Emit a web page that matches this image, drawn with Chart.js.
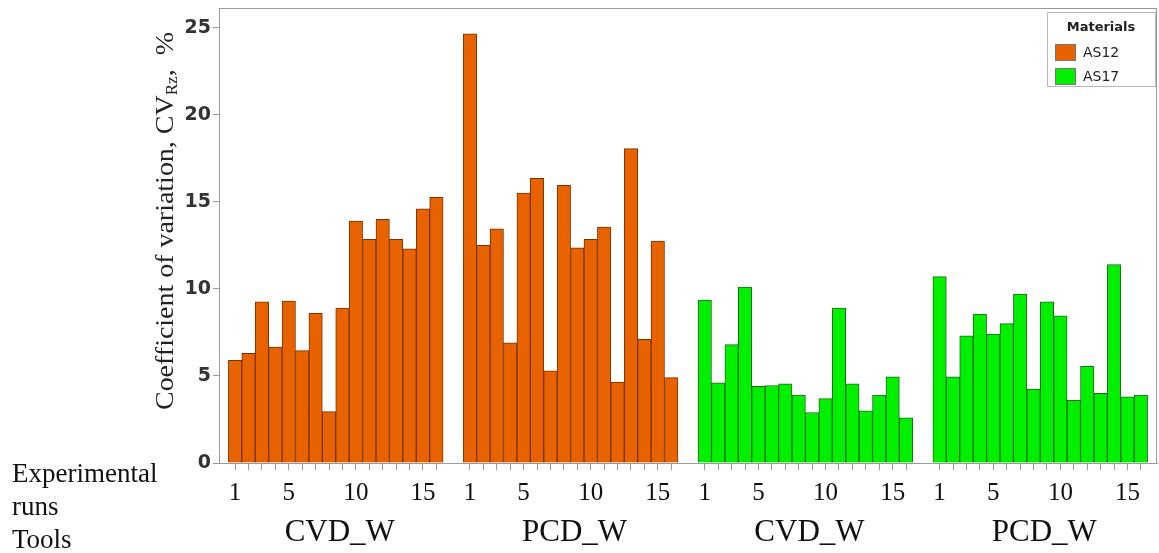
<!DOCTYPE html>
<html>
<head>
<meta charset="utf-8">
<script src="https://cdn.jsdelivr.net/npm/chart.js@4.4.1/dist/chart.umd.min.js"></script>
<style>
  html, body { margin: 0; padding: 0; background: #fff; }
  #wrap { width: 1159px; height: 553px; }
</style>
</head>
<body>
<div id="wrap"><canvas id="cvChart"></canvas></div>
<script>
// coefficient of variation of Rz, % — 16 runs per tool
var runs = [1, 2, 3, 4, 5, 6, 7, 8, 9, 10, 11, 12, 13, 14, 15, 16];
var runLabels = [1, 5, 10, 15];
var tools = ['CVD_W', 'PCD_W', 'CVD_W', 'PCD_W'];
var materials = ['AS12', 'AS17'];
var as12Cvd = [5.9, 6.3, 9.25, 6.65, 9.3, 6.45, 8.6, 2.95, 8.9, 13.9, 12.85, 14.0, 12.85, 12.3, 14.6, 15.25];
var as12Pcd = [24.65, 12.5, 13.45, 6.9, 15.5, 16.35, 5.3, 15.95, 12.35, 12.85, 13.55, 4.65, 18.05, 7.1, 12.75, 4.9];
var as17Cvd = [9.35, 4.6, 6.8, 10.1, 4.4, 4.45, 4.55, 3.9, 2.9, 3.7, 8.9, 4.55, 3.0, 3.9, 4.95, 2.6];
var as17Pcd = [10.7, 4.95, 7.3, 8.55, 7.4, 8.0, 9.7, 4.25, 9.25, 8.45, 3.6, 5.55, 4.0, 11.4, 3.8, 3.9];
var yTicks = [0, 5, 10, 15, 20, 25];

var colors = ['#E86300', '#00F000'];
var borders = ['#7a3300', '#1c6b1c'];
var groupStep = 17.5; // one group of runs plus the gap before the next one

function place(values, group) {
  return values.map(function (v, i) { return { x: group * groupStep + (runs[i] - 1), y: v }; });
}

var tickPos = [], tickText = [];
tools.forEach(function (t, g) {
  runs.forEach(function (r) {
    tickPos.push(g * groupStep + r - 1);
    tickText.push(runLabels.indexOf(r) >= 0 ? String(r) : '');
  });
});

var decor = {
  id: 'decor',
  afterDraw: function (chart) {
    var c = chart.ctx, a = chart.chartArea, xs = chart.scales.x;
    c.save();
    // frame around the plot
    c.strokeStyle = '#9a9a9a';
    c.lineWidth = 1;
    c.strokeRect(a.left + 0.5, a.top + 0.5, a.right - a.left - 1, a.bottom - a.top);

    // y title with subscript
    c.fillStyle = '#222';
    c.translate(166, 221);
    c.rotate(-Math.PI / 2);
    c.textBaseline = 'middle';
    var f1 = '26px "Liberation Serif"', f2 = '16px "Liberation Serif"';
    var p1 = 'Coefficient of variation, CV', p2 = 'Rz', p3 = ',  %';
    c.font = f1; var w1 = c.measureText(p1).width, w3 = c.measureText(p3).width;
    c.font = f2; var w2 = c.measureText(p2).width;
    var k = 378 / (w1 + w2 + w3);
    c.scale(k, 1);
    var x0 = -(w1 + w2 + w3) / 2;
    c.textAlign = 'left';
    c.font = f1; c.fillText(p1, x0, 0);
    c.font = f2; c.fillText(p2, x0 + w1, 7);
    c.font = f1; c.fillText(p3, x0 + w1 + w2, 0);
    c.setTransform(1, 0, 0, 1, 0, 0);

    // row captions on the left
    c.font = '27px "Liberation Serif"';
    c.textAlign = 'left';
    c.textBaseline = 'alphabetic';
    c.fillStyle = '#111';
    c.fillText('Experimental', 12, 482);
    c.fillText('runs', 12, 515);
    c.fillText('Tools', 12, 548);

    // tool names under each group
    c.font = '31px "Liberation Serif"';
    c.textAlign = 'center';
    tools.forEach(function (t, g) {
      c.fillText(t, xs.getPixelForValue(g * groupStep + 7.5) + 4, 541);
    });

    // legend box
    var lx = 1047, ly = 12, lw = 108, lh = 74;
    c.fillStyle = '#fff';
    c.fillRect(lx, ly, lw, lh);
    c.strokeStyle = '#b8b8b8';
    c.strokeRect(lx + 0.5, ly + 0.5, lw, lh);
    c.fillStyle = '#222';
    c.textBaseline = 'middle';
    c.font = 'bold 13px "DejaVu Sans"';
    c.textAlign = 'center';
    c.fillText('Materials', lx + lw / 2, ly + 16);
    c.textAlign = 'left';
    c.font = '14px "DejaVu Sans"';
    chart.data.datasets.forEach(function (ds, i) {
      var sy = ly + 32 + i * 24;
      c.fillStyle = ds.backgroundColor;
      c.fillRect(lx + 8, sy, 20, 16);
      c.strokeStyle = '#777';
      c.strokeRect(lx + 8.5, sy + 0.5, 20, 16);
      c.fillStyle = '#222';
      c.fillText(ds.label, lx + 36, sy + 9);
    });
    c.restore();
  }
};

new Chart(document.getElementById('cvChart'), {
  type: 'bar',
  data: {
    datasets: [
      {
        label: materials[0],
        data: place(as12Cvd, 0).concat(place(as12Pcd, 1)),
        backgroundColor: colors[0],
        borderColor: borders[0],
        borderWidth: 1,
        grouped: false,
        barPercentage: 1,
        categoryPercentage: 1
      },
      {
        label: materials[1],
        data: place(as17Cvd, 2).concat(place(as17Pcd, 3)),
        backgroundColor: colors[1],
        borderColor: borders[1],
        borderWidth: 1,
        grouped: false,
        barPercentage: 1,
        categoryPercentage: 1
      }
    ]
  },
  options: {
    responsive: true,
    maintainAspectRatio: false,
    animation: false,
    layout: { padding: { top: 8, right: 2, left: 0, bottom: 0 } },
    plugins: { legend: { display: false }, tooltip: { enabled: false } },
    scales: {
      x: {
        type: 'linear',
        offset: false,
        min: -1.2,
        max: 68.7,
        afterBuildTicks: function (s) { s.ticks = tickPos.map(function (v) { return { value: v }; }); },
        afterFit: function (s) { s.height = 90; },
        ticks: {
          autoSkip: false,
          maxRotation: 0,
          padding: 8,
          color: '#111',
          font: { family: 'Liberation Serif', size: 25 },
          callback: function (v, i) { return tickText[i]; }
        },
        grid: { offset: false, drawOnChartArea: false, tickLength: 7, color: '#999' },
        border: { color: '#9a9a9a' }
      },
      y: {
        min: 0,
        max: 26.13,
        afterBuildTicks: function (s) { s.ticks = yTicks.map(function (v) { return { value: v }; }); },
        afterFit: function (s) { s.width = 219; s.paddingTop = 0; s.paddingBottom = 0; },
        ticks: {
          padding: 2,
          color: '#333',
          font: { family: 'DejaVu Sans', size: 19, weight: 'bold' }
        },
        grid: { drawOnChartArea: false, tickLength: 6, color: '#999' },
        border: { color: '#9a9a9a' }
      }
    }
  },
  plugins: [decor]
});
</script>
</body>
</html>
